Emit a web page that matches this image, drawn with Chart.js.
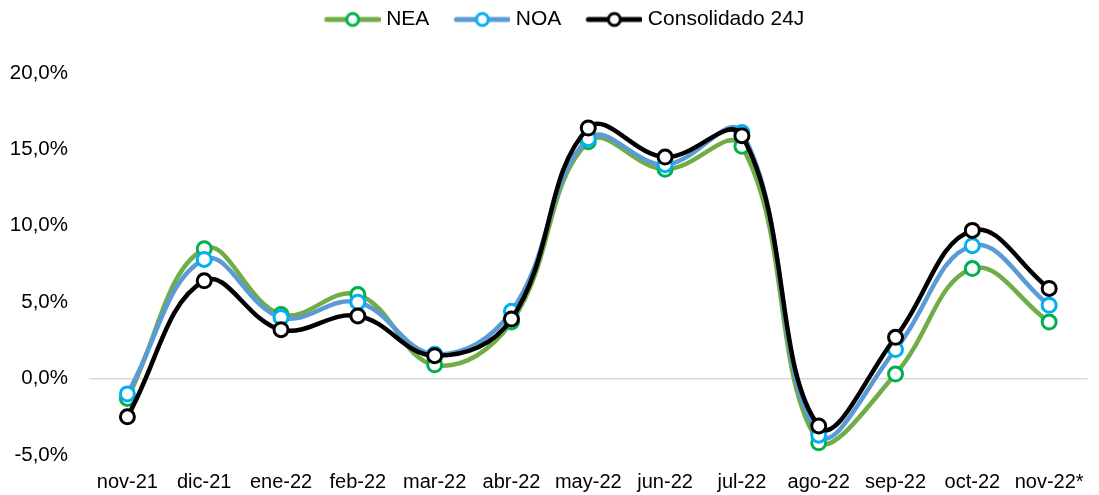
<!DOCTYPE html>
<html lang="es">
<head>
    <meta charset="UTF-8">
    <title>NEA / NOA / Consolidado 24J</title>
    <script src="https://cdn.jsdelivr.net/npm/chart.js"></script>
    <style>
        html, body { margin: 0; padding: 0; background: #fff; }
        .chart-box { width: 1099px; height: 495px; }
    </style>
</head>
<body>
    <div class="chart-box"><canvas id="chart" width="1099" height="495"></canvas></div>
    <script>
        // datos (variacion %)
        const meses = ['nov-21', 'dic-21', 'ene-22', 'feb-22', 'mar-22', 'abr-22', 'may-22', 'jun-22', 'jul-22', 'ago-22', 'sep-22', 'oct-22', 'nov-22*'];
        const nea = [-1.3, 8.5, 4.2, 5.5, 0.9, 3.7, 15.5, 13.7, 15.2, -4.2, 0.3, 7.2, 3.7];
        const noa = [-1.0, 7.8, 4.0, 5.0, 1.6, 4.4, 15.7, 14.0, 16.1, -3.7, 1.9, 8.7, 4.8];
        const consolidado = [-2.5, 6.4, 3.2, 4.1, 1.5, 3.9, 16.4, 14.5, 15.9, -3.1, 2.7, 9.7, 5.9];
        const yTicks = [-5, 0, 5, 10, 15, 20];

        const fuente = 'Liberation Sans, Arial, sans-serif';

        // simbolo de leyenda: linea con marcador
        function legendSymbol(lineColor, pointColor) {
            const c = document.createElement('canvas');
            c.width = 77; c.height = 18;
            const g = c.getContext('2d');
            g.strokeStyle = lineColor; g.lineWidth = 5; g.lineCap = 'round';
            g.beginPath(); g.moveTo(23, 9); g.lineTo(75, 9); g.stroke();
            g.beginPath(); g.arc(49, 9, 6, 0, Math.PI * 2);
            g.fillStyle = '#fff'; g.fill();
            g.strokeStyle = pointColor; g.lineWidth = 3; g.stroke();
            return c;
        }

        // espacio extra debajo de la leyenda y leve corrimiento a la derecha
        const legendSpace = {
            id: 'legendSpace',
            beforeUpdate(chart) {
                const lg = chart.legend;
                if (!lg || lg._spaced) return;
                const fit = lg.fit;
                lg.fit = function () {
                    fit.call(this);
                    this.height += 33;
                };
                const draw = lg.draw;
                lg.draw = function () {
                    this.ctx.save();
                    this.ctx.translate(8, 0);
                    draw.apply(this, arguments);
                    this.ctx.restore();
                };
                lg._spaced = true;
            }
        };

        const serie = (label, data, line, point, order) => ({
            label, data, order,
            borderColor: line,
            borderWidth: 4.5,
            pointBorderColor: point,
            pointBackgroundColor: '#fff',
            pointBorderWidth: 3,
            pointRadius: 7,
            pointHoverRadius: 7,
            tension: 0.4,
            clip: false,
            symbol: legendSymbol(line, point)
        });

        const ctx = document.getElementById('chart').getContext('2d');
        new Chart(ctx, {
            type: 'line',
            data: {
                labels: meses,
                datasets: [
                    serie('NEA', nea, '#70AD47', '#00B050', 3),
                    serie('NOA', noa, '#5B9BD5', '#00B0F0', 2),
                    serie('Consolidado 24J', consolidado, '#000000', '#000000', 1)
                ]
            },
            options: {
                responsive: false,
                animation: false,
                layout: { padding: { top: 0, right: 2, bottom: 0, left: 0 } },
                plugins: {
                    tooltip: { enabled: false },
                    legend: {
                        position: 'top',
                        labels: {
                            color: '#000',
                            font: { family: fuente, size: 21 },
                            usePointStyle: true,
                            pointStyleWidth: 67,
                            boxHeight: 16,
                            padding: 9,
                            generateLabels(chart) {
                                return chart.data.datasets.map((ds, i) => ({
                                    text: ds.label,
                                    datasetIndex: i,
                                    pointStyle: ds.symbol,
                                    fillStyle: 'transparent',
                                    strokeStyle: 'transparent',
                                    lineWidth: 0,
                                    fontColor: '#000'
                                }));
                            }
                        }
                    }
                },
                scales: {
                    x: {
                        offset: true,
                        grid: { display: false, drawTicks: false },
                        border: { display: false },
                        ticks: { color: '#000', font: { family: fuente, size: 20 }, padding: 15, maxRotation: 0, autoSkip: false },
                        afterFit(scale) { scale.height = 40; }
                    },
                    y: {
                        min: -5,
                        max: 20,
                        afterBuildTicks(scale) { scale.ticks = yTicks.map(v => ({ value: v })); },
                        grid: {
                            drawTicks: false,
                            lineWidth: 1.5,
                            color: c => (c.tick && c.tick.value === 0) ? '#d9d9d9' : 'transparent'
                        },
                        border: { display: false },
                        ticks: {
                            color: '#000',
                            font: { family: fuente, size: 20.5 },
                            padding: 21,
                            callback: v => v.toFixed(1).replace('.', ',') + '%'
                        },
                        afterFit(scale) { scale.width = 89; }
                    }
                }
            },
            plugins: [legendSpace]
        });
    </script>
</body>
</html>
